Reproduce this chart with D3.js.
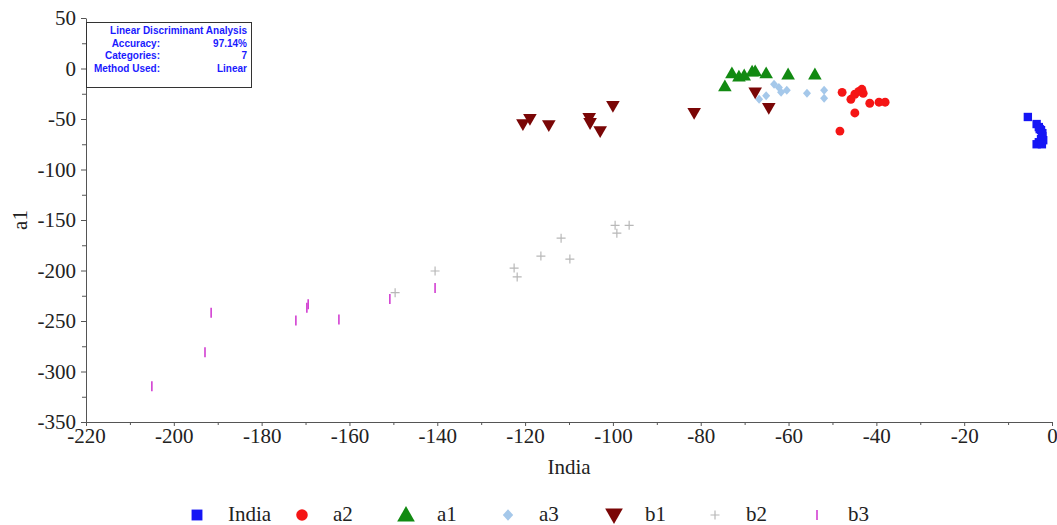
<!DOCTYPE html>
<html>
<head>
<meta charset="utf-8">
<script src="https://cdn.jsdelivr.net/npm/d3@7"></script>
<style>
  body { margin: 0; background: #fff; }
  svg { display: block; }
  .axis path, .axis line { stroke: #555; }
  .title { font-family: "Liberation Serif", "Times New Roman", serif; font-size: 21px; fill: #222; }
  .info text { font-family: "Liberation Sans Narrow", "Arial Narrow", "Liberation Sans", sans-serif; font-size: 10px; font-weight: bold; fill: #1a1aff; }
</style>
</head>
<body>
<div id="chart"></div>
<script>
// series values: [x, y]
var india = [[-5.5,-48],[-3.5,-55],[-3,-58],[-2.5,-61],[-2.8,-60],[-2.2,-64],[-2.2,-67],[-2.5,-70],[-2,-71],[-3,-73],[-3.5,-75],[-2.3,-75]];
var a2 = [[-47.8,-23.6],[-48.3,-62],[-45.8,-30.5],[-44.9,-44],[-44.9,-25.5],[-44,-22.6],[-43.3,-20.6],[-43,-24.6],[-41.5,-34.4],[-39.4,-33.4],[-38,-33.4]];
var a1 = [[-74.5,-17.7],[-72.9,-4.9],[-71.3,-7.9],[-70.1,-6.9],[-68.3,-3],[-67.6,-2.9],[-65.1,-4.9],[-60.1,-5.9],[-54,-5.9]];
var a3 = [[-66.7,-30.5],[-65.1,-27],[-63.3,-15.7],[-62.2,-18.7],[-61.7,-23.6],[-60.4,-21.6],[-55.8,-24.6],[-51.9,-21.6],[-51.9,-29.5]];
var b1 = [[-120.5,-55],[-118.9,-50],[-114.6,-56],[-105.4,-49],[-105.2,-54],[-102.9,-62],[-100,-37],[-81.5,-44],[-67.6,-23.6],[-64.5,-39]];
var b2 = [[-99.5,-155.3],[-96.3,-155.3],[-99.1,-163],[-111.8,-168],[-116.4,-185.7],[-109.8,-188.7],[-122.5,-197.6],[-121.8,-206.4],[-140.5,-200.5],[-149.6,-222]];
var b3 = [[-205,-314.5],[-192.9,-281],[-191.5,-241.8],[-172.2,-249.6],[-169.7,-236.9],[-169.4,-233.5],[-162.4,-248.6],[-150.8,-228.1],[-140.5,-217.3]];

var seriesNames = ["India", "a2", "a1", "a3", "b1", "b2", "b3"];
var seriesData = [india, a2, a1, a3, b1, b2, b3];
var seriesColors = ["#1515f5", "#f51515", "#128a12", "#a5c8ea", "#7a0606", "#b8b8b8", "#d23fd2"];

var xTicks = [-220, -200, -180, -160, -140, -120, -100, -80, -60, -40, -20, 0];
var yTicks = [50, 0, -50, -100, -150, -200, -250, -300, -350];

var infoRows = [
    ["", "Linear Discriminant Analysis"],
    ["Accuracy:", "97.14%"],
    ["Categories:", "7"],
    ["Method Used:", "Linear"]
];

var width = 1057, height = 525;
var mLeft = 86, mRight = 1052, mTop = 18, mBottom = 422;
var serif = "'Liberation Serif', 'Times New Roman', serif";

var svg = d3.select("#chart").append("svg")
    .attr("width", width)
    .attr("height", height);

var x = d3.scaleLinear().domain([-220, 0]).range([mLeft, mRight]);
var y = d3.scaleLinear().domain([-350, 50]).range([mBottom, mTop]);
var fmt = function(d) { return String(d); };

function styleAxis(g) {
    g.attr("font-family", serif).attr("font-size", 21);
    g.selectAll("text").attr("fill", "#222");
}

// minor ticks
svg.append("g")
    .attr("class", "axis")
    .attr("transform", "translate(0," + mBottom + ")")
    .call(d3.axisBottom(x).tickValues(d3.range(-210, 0, 20)).tickSize(3).tickFormat(""))
    .call(function(g) { g.select(".domain").remove(); });
svg.append("g")
    .attr("class", "axis")
    .attr("transform", "translate(" + mLeft + ",0)")
    .call(d3.axisLeft(y).tickValues(d3.range(-325, 50, 50)).tickSize(4).tickFormat(""))
    .call(function(g) { g.select(".domain").remove(); });

svg.append("g")
    .attr("class", "axis")
    .attr("transform", "translate(0," + mBottom + ")")
    .call(d3.axisBottom(x).tickValues(xTicks).tickFormat(fmt).tickSize(4).tickSizeOuter(0).tickPadding(2))
    .call(styleAxis);

svg.append("g")
    .attr("class", "axis")
    .attr("transform", "translate(" + mLeft + ",0)")
    .call(d3.axisLeft(y).tickValues(yTicks).tickFormat(fmt).tickSize(5).tickSizeOuter(0).tickPadding(5))
    .call(styleAxis);

svg.append("text")
    .attr("class", "title")
    .attr("x", (mLeft + mRight) / 2)
    .attr("y", 474)
    .attr("text-anchor", "middle")
    .text("India");

svg.append("text")
    .attr("class", "title")
    .attr("transform", "translate(20," + y(-150) + ") rotate(-90)")
    .attr("text-anchor", "middle")
    .attr("dy", "0.35em")
    .text("a1");

// symbols
var symbolTypes = [d3.symbolSquare, d3.symbolCircle, d3.symbolTriangle, null, d3.symbolTriangle, null, null];
var symbolSizes = [70, 62, 80, 0, 80, 0, 0];

function drawMark(g, i) {
    if (i === 3) {
        g.append("path")
            .attr("d", "M0,-4.5L4,0L0,4.5L-4,0Z")
            .attr("fill", seriesColors[i]);
    } else if (i === 5) {
        g.append("path")
            .attr("d", "M-4.5,0H4.5M0,-4.5V4.5")
            .attr("stroke", seriesColors[i])
            .attr("stroke-width", 1.2)
            .attr("fill", "none");
    } else if (i === 6) {
        g.append("path")
            .attr("d", "M0,-5V5")
            .attr("stroke", seriesColors[i])
            .attr("stroke-width", 1.6)
            .attr("fill", "none");
    } else {
        var p = g.append("path")
            .attr("d", d3.symbol().type(symbolTypes[i]).size(symbolSizes[i])())
            .attr("fill", seriesColors[i]);
        if (i === 2) p.attr("transform", "translate(0,1)");
        if (i === 4) p.attr("transform", "translate(0,-1) rotate(180)");
    }
}

seriesData.forEach(function(data, i) {
    svg.append("g").selectAll("g")
        .data(data)
        .enter().append("g")
        .attr("transform", function(d) { return "translate(" + x(d[0]) + "," + y(d[1]) + ")"; })
        .each(function() { drawMark(d3.select(this), i); });
});

// info box
var info = svg.append("g").attr("class", "info");
info.append("rect")
    .attr("x", 86.5).attr("y", 22.5)
    .attr("width", 165).attr("height", 65)
    .attr("fill", "#fff")
    .attr("stroke", "#333");
infoRows.forEach(function(r, i) {
    var yy = 34 + i * 12.5;
    if (r[0]) {
        info.append("text").attr("x", 160).attr("y", yy).attr("text-anchor", "end").text(r[0]);
    }
    info.append("text").attr("x", 247).attr("y", yy).attr("text-anchor", "end").text(r[1]);
});

// legend
var legendX = [197, 302, 406, 508, 614, 715, 817];
var legend = svg.append("g");
seriesNames.forEach(function(name, i) {
    var g = legend.append("g").attr("transform", "translate(" + legendX[i] + ",515)");
    var m = g.append("g");
    drawMark(m, i);
    if (i < 5) m.attr("transform", "scale(1.3)");
    g.append("text")
        .attr("class", "title")
        .attr("x", 31)
        .attr("y", 6)
        .attr("font-size", "18px")
        .text(name);
});
</script>
</body>
</html>
